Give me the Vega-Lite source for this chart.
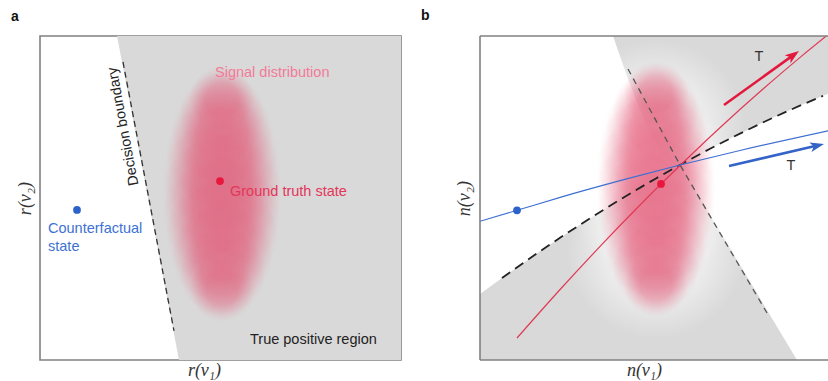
{
  "$schema": "https://vega.github.io/schema/vega-lite/v6.json",
  "padding": {"left": 10, "top": 9, "right": 0, "bottom": 0},
  "background": "white",
  "config": {
    "view": {"stroke": "#808080", "strokeWidth": 1.6},
    "axis": {"labels": false, "ticks": false, "domain": false, "grid": false, "titleFont": "Liberation Serif", "titleFontSize": 18, "titleFontStyle": "italic", "titleFontWeight": "normal", "titleColor": "#333333"}
  },
  "hconcat": [
    {
      "width": 361,
      "height": 324,
      "title": {"text": "a", "anchor": "start", "frame": "group", "dx": -29, "offset": 12, "fontSize": 14, "fontWeight": "bold", "font": "Liberation Sans", "color": "#111111"},
      "layer": [
        {
          "data": {"values": [{"x": 2.133, "y": 9}, {"x": 3.85, "y": 0}]},
          "mark": {"type": "area", "orient": "horizontal", "color": "#d9d9d9"},
          "encoding": {
            "x": {"field": "x", "type": "quantitative", "scale": {"domain": [0, 10], "nice": false, "zero": false}, "axis": {"title": "r(ν₁)", "titlePadding": 1, "titleX": 164}},
            "x2": {"datum": 10},
            "y": {"field": "y", "type": "quantitative", "scale": {"domain": [0, 9], "nice": false, "zero": false}, "axis": {"title": "r(ν₂)", "titlePadding": 6}}
          }
        },
        {
          "data": {"values": [
            {"x1": 3.380, "x2": 6.704, "y1": 2.944, "y2": 6.278},
            {"x1": 3.408, "x2": 6.676, "y1": 3.528, "y2": 6.806},
            {"x1": 3.408, "x2": 6.676, "y1": 2.417, "y2": 5.694},
            {"x1": 3.488, "x2": 6.596, "y1": 4.164, "y2": 7.281},
            {"x1": 3.488, "x2": 6.596, "y1": 1.942, "y2": 5.058},
            {"x1": 3.632, "x2": 6.452, "y1": 4.864, "y2": 7.692},
            {"x1": 3.632, "x2": 6.452, "y1": 1.530, "y2": 4.358},
            {"x1": 3.840, "x2": 6.244, "y1": 5.572, "y2": 7.984},
            {"x1": 3.840, "x2": 6.244, "y1": 1.238, "y2": 3.650},
            {"x1": 4.142, "x2": 5.942, "y1": 6.347, "y2": 8.153},
            {"x1": 4.142, "x2": 5.942, "y1": 1.069, "y2": 2.875}
          ]},
          "mark": {"type": "rect", "fill": {"gradient": "radial", "x1": 0.5, "y1": 0.5, "r1": 0, "x2": 0.5, "y2": 0.5, "r2": 0.5, "stops": [
            {"offset": 0, "color": "rgba(226,80,112,0.3)"},
            {"offset": 0.5, "color": "rgba(226,80,112,0.3)"},
            {"offset": 0.75, "color": "rgba(226,80,112,0.14)"},
            {"offset": 1, "color": "rgba(226,80,112,0)"}
          ]}},
          "encoding": {
            "x": {"field": "x1", "type": "quantitative"},
            "x2": {"field": "x2"},
            "y": {"field": "y1", "type": "quantitative"},
            "y2": {"field": "y2"}
          }
        },
        {
          "data": {"values": [{"x": 2.299, "y": 8.278}, {"x": 3.712, "y": 0.806}]},
          "mark": {"type": "line", "color": "#333333", "strokeWidth": 1.3, "strokeDash": [6, 4]},
          "encoding": {"x": {"field": "x", "type": "quantitative"}, "y": {"field": "y", "type": "quantitative"}}
        },
        {
          "data": {"values": [{"x": 4.986, "y": 4.972}]},
          "mark": {"type": "point", "filled": true, "opacity": 1, "size": 60, "color": "#e8173c"},
          "encoding": {"x": {"field": "x", "type": "quantitative"}, "y": {"field": "y", "type": "quantitative"}}
        },
        {
          "data": {"values": [{"x": 1.025, "y": 4.167}]},
          "mark": {"type": "point", "filled": true, "opacity": 1, "size": 60, "color": "#2c62c9"},
          "encoding": {"x": {"field": "x", "type": "quantitative"}, "y": {"field": "y", "type": "quantitative"}}
        },
        {
          "data": {"values": [{"x": 4.848, "y": 7.96, "label": "Signal distribution"}]},
          "mark": {"type": "text", "align": "left", "baseline": "middle", "font": "Liberation Sans", "fontSize": 14.5, "color": "#f27b98"},
          "encoding": {"x": {"field": "x", "type": "quantitative"}, "y": {"field": "y", "type": "quantitative"}, "text": {"field": "label"}}
        },
        {
          "data": {"values": [{"x": 5.263, "y": 4.653, "label": "Ground truth state"}]},
          "mark": {"type": "text", "align": "left", "baseline": "middle", "font": "Liberation Sans", "fontSize": 14.5, "color": "#e33659"},
          "encoding": {"x": {"field": "x", "type": "quantitative"}, "y": {"field": "y", "type": "quantitative"}, "text": {"field": "label"}}
        },
        {
          "data": {"values": [{"x": 0.222, "y": 3.639, "label": "Counterfactual"}, {"x": 0.222, "y": 3.139, "label": "state"}]},
          "mark": {"type": "text", "align": "left", "baseline": "middle", "font": "Liberation Sans", "fontSize": 14.5, "color": "#3d72d3"},
          "encoding": {"x": {"field": "x", "type": "quantitative"}, "y": {"field": "y", "type": "quantitative"}, "text": {"field": "label"}}
        },
        {
          "data": {"values": [{"x": 5.817, "y": 0.564, "label": "True positive region"}]},
          "mark": {"type": "text", "align": "left", "baseline": "middle", "font": "Liberation Sans", "fontSize": 14.5, "color": "#222222"},
          "encoding": {"x": {"field": "x", "type": "quantitative"}, "y": {"field": "y", "type": "quantitative"}, "text": {"field": "label"}}
        },
        {
          "data": {"values": [{"x": 2.313, "y": 6.486, "label": "Decision boundary"}]},
          "mark": {"type": "text", "align": "center", "baseline": "middle", "angle": 259.5, "font": "Liberation Sans", "fontSize": 14.5, "color": "#222222"},
          "encoding": {"x": {"field": "x", "type": "quantitative"}, "y": {"field": "y", "type": "quantitative"}, "text": {"field": "label"}}
        }
      ]
    },
    {
      "width": 349,
      "height": 324,
      "view": {"stroke": null},
      "title": {"text": "b", "anchor": "start", "frame": "group", "dx": -59, "offset": 12, "fontSize": 14, "fontWeight": "bold", "font": "Liberation Sans", "color": "#111111"},
      "layer": [
        {
          "data": {"values": [{"x": 3.684, "y": 9}, {"x": 5.54, "y": 5.419}, {"x": 6.399, "y": 5.881}, {"x": 7.507, "y": 6.439}, {"x": 8.615, "y": 6.956}, {"x": 9.6676, "y": 7.406}]},
          "mark": {"type": "area", "color": "#d9d9d9", "interpolate": "monotone"},
          "encoding": {
            "x": {"field": "x", "type": "quantitative", "scale": {"domain": [0, 9.6676], "nice": false, "zero": false}, "axis": {"title": "n(ν₁)", "titlePadding": 1, "titleX": 164}},
            "y": {"field": "y", "type": "quantitative", "scale": {"domain": [0, 9], "nice": false, "zero": false}, "axis": {"title": "n(ν₂)", "titlePadding": 7}},
            "y2": {"datum": 9}
          }
        },
        {
          "data": {"values": [{"x": 0, "y": 1.831}, {"x": 0.609, "y": 2.278}, {"x": 1.69, "y": 3.039}, {"x": 2.798, "y": 3.775}, {"x": 3.906, "y": 4.469}, {"x": 4.875, "y": 5.044}, {"x": 5.54, "y": 5.419}, {"x": 8.781, "y": 0}]},
          "mark": {"type": "area", "color": "#d9d9d9"},
          "encoding": {
            "x": {"field": "x", "type": "quantitative"},
            "y": {"field": "y", "type": "quantitative"},
            "y2": {"datum": 0}
          }
        },
        {
          "data": {"values": [
            {"x1": 2.382, "x2": 7.368, "y1": 2.25, "y2": 7.25},
            {"x1": 2.382, "x2": 7.368, "y1": 3.917, "y2": 8.917},
            {"x1": 2.382, "x2": 7.368, "y1": 0.583, "y2": 5.583}
          ]},
          "mark": {"type": "rect", "fill": {"gradient": "radial", "x1": 0.5, "y1": 0.5, "r1": 0, "x2": 0.5, "y2": 0.5, "r2": 0.5, "stops": [
            {"offset": 0, "color": "rgba(255,255,255,0.6)"},
            {"offset": 0.55, "color": "rgba(255,255,255,0.5)"},
            {"offset": 1, "color": "rgba(255,255,255,0)"}
          ]}},
          "encoding": {
            "x": {"field": "x1", "type": "quantitative"},
            "x2": {"field": "x2"},
            "y": {"field": "y1", "type": "quantitative"},
            "y2": {"field": "y2"}
          }
        },
        {
          "data": {"values": [
            {"x1": 3.213, "x2": 6.537, "y1": 3.083, "y2": 6.417},
            {"x1": 3.241, "x2": 6.509, "y1": 3.667, "y2": 6.945},
            {"x1": 3.241, "x2": 6.509, "y1": 2.555, "y2": 5.833},
            {"x1": 3.321, "x2": 6.429, "y1": 4.303, "y2": 7.419},
            {"x1": 3.321, "x2": 6.429, "y1": 2.081, "y2": 5.197},
            {"x1": 3.465, "x2": 6.285, "y1": 5.003, "y2": 7.831},
            {"x1": 3.465, "x2": 6.285, "y1": 1.669, "y2": 4.497},
            {"x1": 3.673, "x2": 6.077, "y1": 5.711, "y2": 8.123},
            {"x1": 3.673, "x2": 6.077, "y1": 1.377, "y2": 3.789},
            {"x1": 3.975, "x2": 5.775, "y1": 6.486, "y2": 8.292},
            {"x1": 3.975, "x2": 5.775, "y1": 1.208, "y2": 3.014}
          ]},
          "mark": {"type": "rect", "fill": {"gradient": "radial", "x1": 0.5, "y1": 0.5, "r1": 0, "x2": 0.5, "y2": 0.5, "r2": 0.5, "stops": [
            {"offset": 0, "color": "rgba(226,80,112,0.3)"},
            {"offset": 0.5, "color": "rgba(226,80,112,0.3)"},
            {"offset": 0.75, "color": "rgba(226,80,112,0.14)"},
            {"offset": 1, "color": "rgba(226,80,112,0)"}
          ]}},
          "encoding": {
            "x": {"field": "x1", "type": "quantitative"},
            "x2": {"field": "x2"},
            "y": {"field": "y1", "type": "quantitative"},
            "y2": {"field": "y2"}
          }
        },
        {
          "data": {"values": [{"x": 4.1, "y": 8.083}, {"x": 5.54, "y": 5.419}, {"x": 7.95, "y": 1.306}]},
          "mark": {"type": "line", "color": "#555555", "strokeWidth": 1.3, "strokeDash": [6, 5]},
          "encoding": {"x": {"field": "x", "type": "quantitative"}, "y": {"field": "y", "type": "quantitative"}}
        },
        {
          "data": {"values": [{"x": 0.609, "y": 2.278}, {"x": 1.69, "y": 3.039}, {"x": 2.798, "y": 3.775}, {"x": 3.906, "y": 4.469}, {"x": 4.875, "y": 5.044}, {"x": 5.54, "y": 5.419}, {"x": 6.399, "y": 5.881}, {"x": 7.507, "y": 6.439}, {"x": 8.615, "y": 6.956}, {"x": 9.501, "y": 7.336}]},
          "mark": {"type": "line", "color": "#222222", "strokeWidth": 1.8, "strokeDash": [10, 6], "interpolate": "monotone"},
          "encoding": {"x": {"field": "x", "type": "quantitative"}, "y": {"field": "y", "type": "quantitative"}}
        },
        {
          "data": {"values": [{"x": 1.025, "y": 0.611}, {"x": 2.244, "y": 1.986}, {"x": 3.352, "y": 3.183}, {"x": 4.46, "y": 4.333}, {"x": 5.014, "y": 4.889}, {"x": 5.54, "y": 5.403}, {"x": 6.676, "y": 6.481}, {"x": 7.784, "y": 7.478}, {"x": 8.892, "y": 8.428}, {"x": 9.6676, "y": 9.061}]},
          "mark": {"type": "line", "color": "#e03a55", "strokeWidth": 1.2, "clip": true, "interpolate": "monotone"},
          "encoding": {"x": {"field": "x", "type": "quantitative"}, "y": {"field": "y", "type": "quantitative"}}
        },
        {
          "data": {"values": [{"x": 0, "y": 3.853}, {"x": 1.025, "y": 4.158}, {"x": 2.244, "y": 4.525}, {"x": 3.906, "y": 4.989}, {"x": 5.54, "y": 5.417}, {"x": 7.23, "y": 5.828}, {"x": 9.6676, "y": 6.372}]},
          "mark": {"type": "line", "color": "#3d6fd1", "strokeWidth": 1.1, "clip": true, "interpolate": "monotone"},
          "encoding": {"x": {"field": "x", "type": "quantitative"}, "y": {"field": "y", "type": "quantitative"}}
        },
        {
          "data": {"values": [{"x": 6.759, "y": 7.083}, {"x": 8.679, "y": 8.469}]},
          "mark": {"type": "line", "color": "#e3183d", "strokeWidth": 2.5},
          "encoding": {"x": {"field": "x", "type": "quantitative"}, "y": {"field": "y", "type": "quantitative"}}
        },
        {
          "data": {"values": [{"x": 8.679, "y": 8.469}]},
          "mark": {"type": "point", "filled": true, "opacity": 1, "size": 196, "angle": 324.25, "shape": "M1,0L-1,-0.7L-0.5,0L-1,0.7Z", "color": "#e3183d"},
          "encoding": {"x": {"field": "x", "type": "quantitative"}, "y": {"field": "y", "type": "quantitative"}}
        },
        {
          "data": {"values": [{"x": 6.898, "y": 5.389}, {"x": 9.341, "y": 5.956}]},
          "mark": {"type": "line", "color": "#3464c8", "strokeWidth": 2.5},
          "encoding": {"x": {"field": "x", "type": "quantitative"}, "y": {"field": "y", "type": "quantitative"}}
        },
        {
          "data": {"values": [{"x": 9.341, "y": 5.956}]},
          "mark": {"type": "point", "filled": true, "opacity": 1, "size": 196, "angle": 346.96, "shape": "M1,0L-1,-0.7L-0.5,0L-1,0.7Z", "color": "#3464c8"},
          "encoding": {"x": {"field": "x", "type": "quantitative"}, "y": {"field": "y", "type": "quantitative"}}
        },
        {
          "data": {"values": [{"x": 5.014, "y": 4.889}]},
          "mark": {"type": "point", "filled": true, "opacity": 1, "size": 60, "color": "#e8173c"},
          "encoding": {"x": {"field": "x", "type": "quantitative"}, "y": {"field": "y", "type": "quantitative"}}
        },
        {
          "data": {"values": [{"x": 1.025, "y": 4.158}]},
          "mark": {"type": "point", "filled": true, "opacity": 1, "size": 60, "color": "#2c62c9"},
          "encoding": {"x": {"field": "x", "type": "quantitative"}, "y": {"field": "y", "type": "quantitative"}}
        },
        {
          "data": {"values": [{"x": 7.729, "y": 8.43, "label": "T"}, {"x": 8.615, "y": 5.389, "label": "T"}]},
          "mark": {"type": "text", "align": "center", "baseline": "middle", "font": "Liberation Sans", "fontSize": 14.5, "color": "#333333"},
          "encoding": {"x": {"field": "x", "type": "quantitative"}, "y": {"field": "y", "type": "quantitative"}, "text": {"field": "label"}}
        },
        {
          "data": {"values": [{"x": 0, "x2": 0, "y": 0, "y2": 9}, {"x": 0, "x2": 9.64, "y": 9, "y2": 9}, {"x": 0, "x2": 9.64, "y": 0, "y2": 0}]},
          "mark": {"type": "rule", "color": "#808080", "strokeWidth": 1.6},
          "encoding": {"x": {"field": "x", "type": "quantitative"}, "x2": {"field": "x2"}, "y": {"field": "y", "type": "quantitative"}, "y2": {"field": "y2"}}
        }
      ]
    }
  ],
  "spacing": 79,
  "bounds": "flush"
}
